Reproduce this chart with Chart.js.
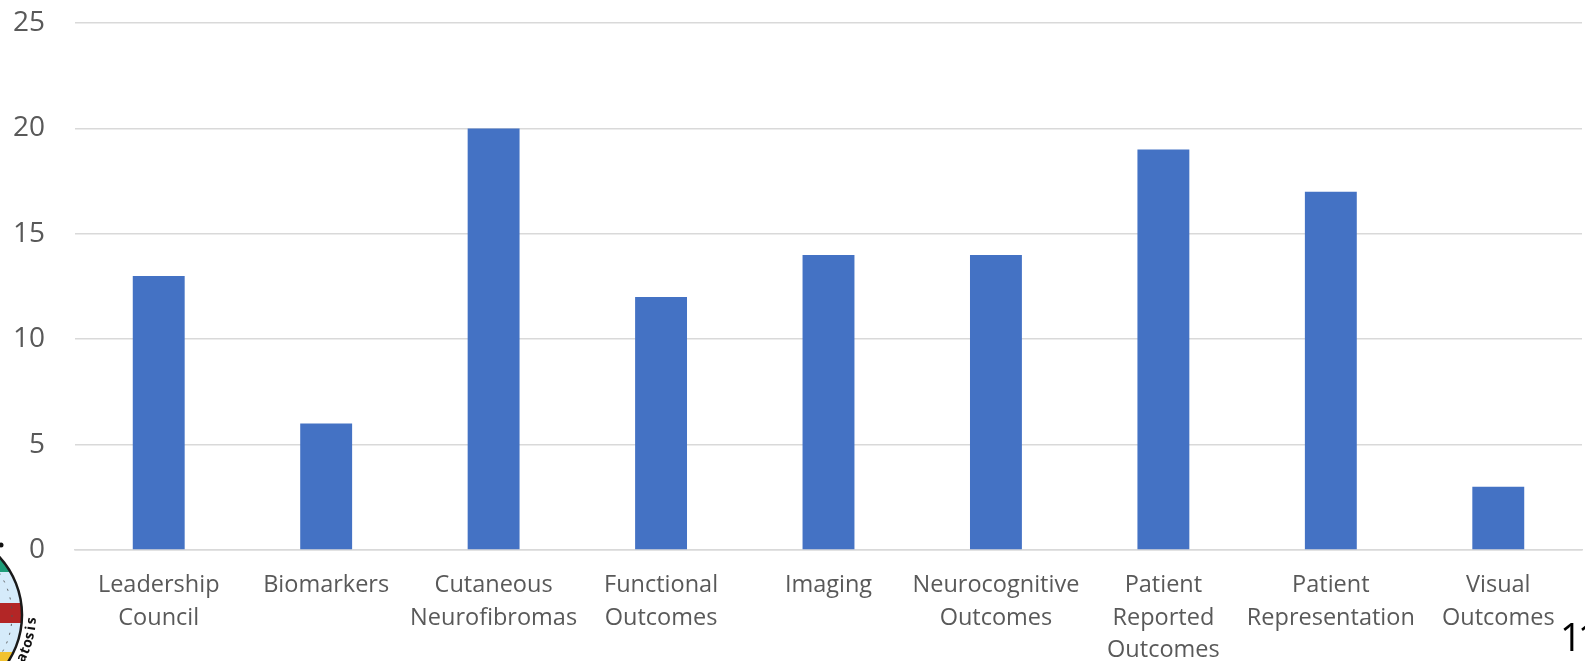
<!DOCTYPE html>
<html>
<head>
<meta charset="utf-8">
<script src="https://cdn.jsdelivr.net/npm/chart.js@4/dist/chart.umd.min.js"></script>
<style>
  html, body { margin: 0; padding: 0; background: #ffffff; }
  #wrap { position: relative; width: 1585px; height: 661px; }
</style>
</head>
<body>
<div id="wrap"><canvas id="chart" width="1585" height="661"></canvas></div>
<script>
// Working-group membership counts
const categories = [
  ["Leadership", "Council"],
  "Biomarkers",
  ["Cutaneous", "Neurofibromas"],
  ["Functional", "Outcomes"],
  "Imaging",
  ["Neurocognitive", "Outcomes"],
  ["Patient", "Reported", "Outcomes"],
  ["Patient", "Representation"],
  ["Visual", "Outcomes"]
];
const members = [13, 6, 20, 12, 14, 14, 19, 17, 3];
const yTicks = [0, 5, 10, 15, 20, 25];
const slideNumber = "11";

const FONT = "'Open Sans', 'Liberation Sans', sans-serif";

// Corner decorations: partial logo emblem at bottom-left and the page number
const decorations = {
  id: 'decorations',
  afterDraw(chart) {
    const ctx = chart.ctx;
    ctx.save();
    // emblem
    const cx = -64, cy = 615, r = 86;
    ctx.beginPath();
    ctx.arc(cx, cy, r, 0, Math.PI * 2);
    ctx.fillStyle = '#d5ebfa';
    ctx.fill();
    ctx.save();
    ctx.clip();
    ctx.fillStyle = '#1f9e7a';
    ctx.fillRect(-200, 545, 260, 27);
    ctx.fillStyle = '#b32626';
    ctx.fillRect(-200, 603, 260, 20);
    ctx.fillStyle = '#f2c230';
    ctx.fillRect(-200, 652, 260, 40);
    // dotted inner ring
    ctx.setLineDash([2, 7]);
    ctx.strokeStyle = '#555';
    ctx.lineWidth = 1;
    ctx.beginPath();
    ctx.arc(cx, cy, r - 10, 0, Math.PI * 2);
    ctx.stroke();
    ctx.restore();
    ctx.setLineDash([]);
    ctx.beginPath();
    ctx.arc(cx, cy, r, 0, Math.PI * 2);
    ctx.strokeStyle = '#1a1a1a';
    ctx.lineWidth = 2.5;
    ctx.stroke();
    ctx.fillStyle = '#111';
    ctx.beginPath();
    ctx.arc(1, 545, 2.5, 0, Math.PI * 2);
    ctx.fill();
    // lettering around the ring, reading upward
    const word = "atosis";
    ctx.font = "bold 14px " + FONT;
    ctx.textAlign = 'center';
    ctx.textBaseline = 'middle';
    const ang = 0.46;
    for (let i = 0; i < word.length; i++) {
      const a = ang - i * 0.08;
      const x = cx + (r + 10) * Math.cos(a);
      const y = cy + (r + 10) * Math.sin(a);
      ctx.save();
      ctx.translate(x, y);
      ctx.rotate(a - Math.PI / 2);
      ctx.fillText(word[i], 0, 0);
      ctx.restore();
    }
    // page number
    ctx.fillStyle = '#000';
    ctx.font = "38px " + FONT;
    ctx.letterSpacing = '-4px';
    ctx.textAlign = 'left';
    ctx.textBaseline = 'alphabetic';
    ctx.fillText(slideNumber, 1560, 651);
    ctx.restore();
  }
};

new Chart(document.getElementById('chart'), {
  type: 'bar',
  data: {
    labels: categories,
    datasets: [{
      data: members,
      backgroundColor: '#4472c4',
      borderWidth: 0,
      barPercentage: 0.31,
      categoryPercentage: 1.0
    }]
  },
  options: {
    responsive: false,
    animation: false,
    events: [],
    layout: { padding: { left: 0, right: 3, top: 23, bottom: 0 } },
    plugins: {
      legend: { display: false },
      tooltip: { enabled: false },
      title: { display: false }
    },
    scales: {
      x: {
        grid: { display: false, drawTicks: false },
        border: { display: true, color: '#d9d9d9', width: 1.5 },
        ticks: {
          color: '#595959',
          font: { family: FONT, size: 23.5, lineHeight: 1.39 },
          padding: 19,
          maxRotation: 0,
          autoSkip: false
        },
        afterFit(axis) {
          axis.height = 111;
          axis.paddingLeft = 0;
          axis.paddingRight = 0;
        }
      },
      y: {
        min: 0,
        max: 25,
        afterBuildTicks(axis) { axis.ticks = yTicks.map(v => ({ value: v })); },
        grid: { color: '#d9d9d9', lineWidth: 1.5, drawTicks: false },
        border: { display: false },
        ticks: {
          color: '#595959',
          font: { family: FONT, size: 28 },
          padding: 30
        },
        afterFit(axis) {
          axis.width = 75;
          axis.paddingTop = 0;
          axis.paddingBottom = 0;
        }
      }
    }
  },
  plugins: [decorations]
});
</script>
</body>
</html>
